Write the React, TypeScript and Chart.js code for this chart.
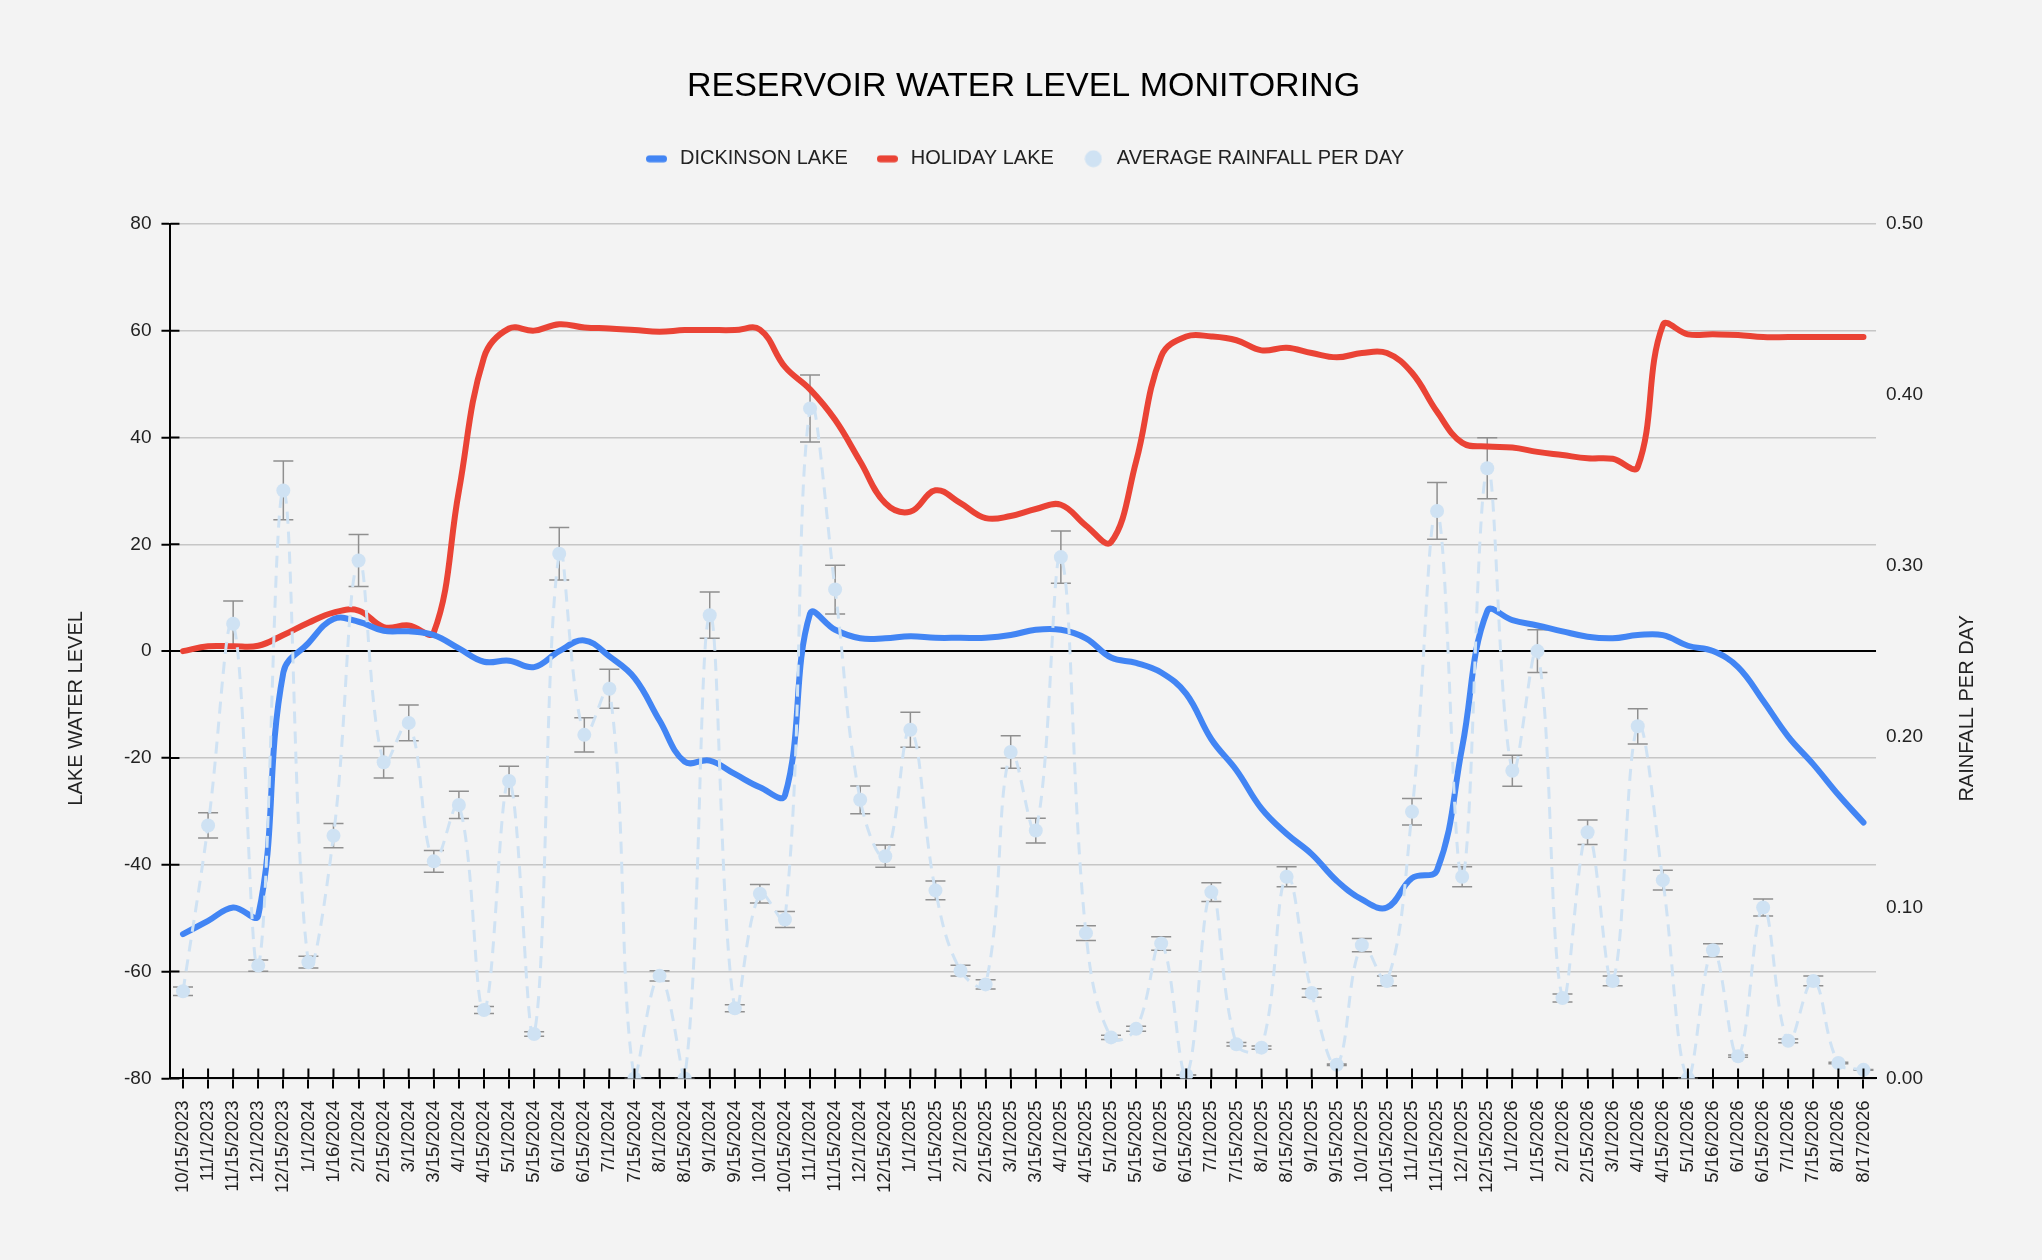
import React, { useEffect, useRef } from 'react';
import { Chart, registerables } from 'chart.js';

Chart.register(...registerables);

const TITLE = 'RESERVOIR WATER LEVEL MONITORING';
const LEFT_AXIS_TITLE = 'LAKE WATER LEVEL';
const RIGHT_AXIS_TITLE = 'RAINFALL PER DAY';

const labels = [
  '10/15/2023', '11/1/2023', '11/15/2023', '12/1/2023', '12/15/2023',
  '1/1/2024', '1/16/2024', '2/1/2024', '2/15/2024', '3/1/2024', '3/15/2024', '4/1/2024', '4/15/2024',
  '5/1/2024', '5/15/2024', '6/1/2024', '6/15/2024', '7/1/2024', '7/15/2024', '8/1/2024', '8/15/2024',
  '9/1/2024', '9/15/2024', '10/1/2024', '10/15/2024', '11/1/2024', '11/15/2024', '12/1/2024', '12/15/2024',
  '1/1/2025', '1/15/2025', '2/1/2025', '2/15/2025', '3/1/2025', '3/15/2025', '4/1/2025', '4/15/2025',
  '5/1/2025', '5/15/2025', '6/1/2025', '6/15/2025', '7/1/2025', '7/15/2025', '8/1/2025', '8/15/2025',
  '9/1/2025', '9/15/2025', '10/1/2025', '10/15/2025', '11/1/2025', '11/15/2025', '12/1/2025', '12/15/2025',
  '1/1/2026', '1/15/2026', '2/1/2026', '2/15/2026', '3/1/2026', '4/1/2026', '4/15/2026', '5/1/2026',
  '5/16/2026', '6/1/2026', '6/15/2026', '7/1/2026', '7/15/2026', '8/1/2026', '8/17/2026',
];

const dickinsonLake = [
  -53, -50.5, -48, -49.5, -4, 1.5, 6, 5.5, 3.8, 3.7,
  3, 0.5, -2, -1.8, -3, 0, 2, -1, -5, -13,
  -20.7, -20.5, -23, -25.5, -27, 7, 4, 2.4, 2.4, 2.8,
  2.5, 2.5, 2.5, 3, 4, 4, 2.4, -1.2, -2.2, -4,
  -8, -16.5, -22.3, -29.5, -34.2, -38, -43, -46.5, -48, -42.5,
  -41, -18, 7.5, 5.8, 4.8, 3.7, 2.7, 2.4, 3, 3,
  1, 0, -3, -9.3, -16, -21.2, -26.9, -32.1,
];

const holidayLake = [
  0, 0.9, 0.9, 1, 3, 5.3, 7.2, 7.6, 4.5, 4.8,
  3.5, 30, 55, 60.4, 60, 61.2, 60.6, 60.4, 60.1, 59.8,
  60.1, 60.1, 60.1, 60.2, 53.2, 49, 43.3, 35.5, 27.7, 26.1,
  30.1, 27.7, 24.9, 25.3, 26.6, 27.4, 23.5, 20.4, 35.5, 55.2,
  58.9, 58.9, 58.2, 56.3, 56.8, 55.8, 55, 55.8, 55.8, 52.1,
  44.8, 39, 38.3, 38.1, 37.3, 36.7, 36.1, 36, 34.5, 61,
  59.3, 59.3, 59.2, 58.8, 58.8, 58.8, 58.8, 58.8,
];

const averageRainfall = [
  0.051, 0.148, 0.266, 0.066, 0.344, 0.068, 0.142, 0.303, 0.185, 0.208,
  0.127, 0.160, 0.040, 0.174, 0.026, 0.307, 0.201, 0.228, 0.000, 0.060,
  0.000, 0.271, 0.041, 0.108, 0.093, 0.392, 0.286, 0.163, 0.130, 0.204,
  0.110, 0.063, 0.055, 0.191, 0.145, 0.305, 0.085, 0.024, 0.029, 0.079,
  0.002, 0.109, 0.020, 0.018, 0.118, 0.050, 0.008, 0.078, 0.057, 0.156,
  0.332, 0.118, 0.357, 0.180, 0.250, 0.047, 0.144, 0.057, 0.206, 0.116,
  0.000, 0.075, 0.013, 0.100, 0.022, 0.057, 0.009, 0.005,
];

// Error bars of the rainfall series: percent of each value (chart setting)
const RAINFALL_ERROR_PERCENT = 5;

const LAKE_MIN = -80;
const LAKE_MAX = 80;
const LAKE_STEP = 20;
const RAIN_MIN = 0;
const RAIN_MAX = 0.5;
const RAIN_STEP = 0.1;

const FAMILY = "'Liberation Sans', Arial, Helvetica, sans-serif";
const BLUE = '#4285f4';
const RED = '#ea4335';
const LIGHT = '#cfe2f3';
const BG = '#f3f3f3';
const TEXT = '#222222';

function makeLineMarker(color: string) {
  const c = document.createElement('canvas');
  c.width = 21;
  c.height = 8;
  const g = c.getContext('2d')!;
  g.strokeStyle = color;
  g.lineWidth = 7;
  g.lineCap = 'round';
  g.beginPath();
  g.moveTo(3.5, 4);
  g.lineTo(17.5, 4);
  g.stroke();
  return c;
}

function makeDotMarker(color: string) {
  const c = document.createElement('canvas');
  c.width = 18;
  c.height = 18;
  const g = c.getContext('2d')!;
  g.fillStyle = color;
  g.beginPath();
  g.arc(9, 9, 8.5, 0, Math.PI * 2);
  g.fill();
  return c;
}

export default function App() {
  const ref = useRef<HTMLCanvasElement>(null);

  useEffect(() => {
    const canvas = ref.current;
    if (!canvas) return;
    const markers = [makeLineMarker(BLUE), makeLineMarker(RED), makeDotMarker(LIGHT)];

    const extras = {
      id: 'extras',
      beforeInit(chart: any) {
        const lg = chart.legend;
        if (lg) {
          const fit = lg.fit.bind(lg);
          lg.fit = function () {
            fit();
            this.height += 45;
          };
        }
      },
      beforeDraw(chart: any) {
        const { ctx, width, height } = chart;
        ctx.save();
        ctx.fillStyle = BG;
        ctx.fillRect(0, 0, width, height);
        ctx.restore();
      },
      beforeDatasetsDraw(chart: any) {
        const { ctx, chartArea } = chart;
        const meta = chart.getDatasetMeta(2);
        const ys = chart.scales.y2;
        ctx.save();
        ctx.beginPath();
        ctx.rect(chartArea.left, chartArea.top, chartArea.right - chartArea.left, chartArea.bottom - chartArea.top);
        ctx.clip();
        ctx.strokeStyle = '#8f8f8f';
        ctx.lineWidth = 1.5;
        meta.data.forEach((pt: any, i: number) => {
          const v = averageRainfall[i];
          const e = (v * RAINFALL_ERROR_PERCENT) / 100;
          const yt = ys.getPixelForValue(v + e);
          const yb = ys.getPixelForValue(v - e);
          const x = pt.x;
          ctx.beginPath();
          ctx.moveTo(x, yt);
          ctx.lineTo(x, yb);
          ctx.moveTo(x - 10, yt);
          ctx.lineTo(x + 10, yt);
          ctx.moveTo(x - 10, yb);
          ctx.lineTo(x + 10, yb);
          ctx.stroke();
        });
        ctx.restore();
      },
      afterDraw(chart: any) {
        const { ctx, chartArea } = chart;
        const xs = chart.scales.x;
        const yl = chart.scales.y;
        ctx.save();
        ctx.strokeStyle = '#000';
        ctx.lineWidth = 2;
        ctx.beginPath();
        xs.ticks.forEach((_: any, i: number) => {
          const px = xs.getPixelForTick(i);
          ctx.moveTo(px, chartArea.bottom);
          ctx.lineTo(px, chartArea.bottom - 10);
        });
        yl.ticks.forEach((_: any, i: number) => {
          const py = yl.getPixelForTick(i);
          ctx.moveTo(chartArea.left, py);
          ctx.lineTo(chartArea.left + 9, py);
        });
        ctx.stroke();

        const cy = (chartArea.top + xs.bottom - xs.options.ticks.padding) / 2;
        ctx.fillStyle = TEXT;
        ctx.font = `20px ${FAMILY}`;
        ctx.textAlign = 'center';
        ctx.textBaseline = 'middle';
        ctx.save();
        ctx.translate(chartArea.left - 94, cy);
        ctx.rotate(-Math.PI / 2);
        ctx.fillText(LEFT_AXIS_TITLE, 0, 0);
        ctx.restore();
        ctx.save();
        ctx.translate(chartArea.right + 91, cy);
        ctx.rotate(-Math.PI / 2);
        ctx.fillText(RIGHT_AXIS_TITLE, 0, 0);
        ctx.restore();
        ctx.restore();
      },
    };

    const chart = new Chart(canvas, {
      type: 'line',
      data: {
        labels,
        datasets: [
          {
            label: 'DICKINSON LAKE',
            data: dickinsonLake,
            yAxisID: 'y',
            borderColor: BLUE,
            backgroundColor: BLUE,
            borderWidth: 6,
            pointRadius: 0,
            pointHoverRadius: 0,
            tension: 0.4,
            borderCapStyle: 'round',
            borderJoinStyle: 'round',
            fill: false,
            order: 1,
          },
          {
            label: 'HOLIDAY LAKE',
            data: holidayLake,
            yAxisID: 'y',
            borderColor: RED,
            backgroundColor: RED,
            borderWidth: 6,
            pointRadius: 0,
            pointHoverRadius: 0,
            tension: 0.4,
            borderCapStyle: 'round',
            borderJoinStyle: 'round',
            fill: false,
            order: 2,
          },
          {
            label: 'AVERAGE RAINFALL PER DAY',
            data: averageRainfall,
            yAxisID: 'y2',
            borderColor: LIGHT,
            backgroundColor: LIGHT,
            borderWidth: 3,
            borderDash: [12, 8],
            pointRadius: 7,
            pointBorderWidth: 0,
            pointBackgroundColor: LIGHT,
            tension: 0.4,
            fill: false,
            order: 0,
          },
        ],
      } as any,
      options: {
        responsive: false,
        animation: false,
        devicePixelRatio: 1,
        layout: { padding: { top: 0, left: 114, right: 109, bottom: 55 } },
        plugins: {
          tooltip: { enabled: false },
          title: {
            display: true,
            text: TITLE,
            color: '#000',
            font: { family: FAMILY, size: 34, weight: 'normal' },
            padding: { top: 66, bottom: 16 },
          },
          legend: {
            display: true,
            position: 'top',
            labels: {
              usePointStyle: true,
              pointStyleWidth: 27,
              padding: 26,
              color: TEXT,
              font: { family: FAMILY, size: 20 },
              generateLabels: (c: any) => {
                const items = (Chart.defaults.plugins.legend.labels as any).generateLabels(c);
                items.forEach((it: any) => {
                  it.pointStyle = markers[it.datasetIndex];
                });
                return items.sort((a: any, b: any) => a.datasetIndex - b.datasetIndex);
              },
            },
          },
        },
        scales: {
          x: {
            type: 'category',
            offset: true,
            grid: {
              display: true,
              drawOnChartArea: false,
              drawTicks: true,
              tickLength: 10,
              tickColor: '#000',
              tickWidth: 2,
              lineWidth: 2,
              color: '#000',
            },
            border: { display: true, color: '#000', width: 2 },
            ticks: {
              autoSkip: false,
              maxRotation: 90,
              minRotation: 90,
              padding: 12,
              color: TEXT,
              font: { family: FAMILY, size: 18.5 },
            },
          },
          y: {
            position: 'left',
            min: LAKE_MIN,
            max: LAKE_MAX,
            ticks: {
              stepSize: LAKE_STEP,
              padding: 10,
              color: TEXT,
              font: { family: FAMILY, size: 19 },
            },
            grid: {
              color: (c: any) => (c.tick && c.tick.value === 0 ? '#000' : '#c6c6c6'),
              lineWidth: (c: any) => (c.tick && c.tick.value === 0 ? 2 : 1.5),
              tickColor: '#000',
              tickLength: 9,
              tickWidth: 2,
            },
            border: { display: true, color: '#000', width: 2 },
          },
          y2: {
            position: 'right',
            min: RAIN_MIN,
            max: RAIN_MAX,
            ticks: {
              stepSize: RAIN_STEP,
              padding: 10,
              color: TEXT,
              font: { family: FAMILY, size: 19 },
              callback: (v: any) => Number(v).toFixed(2),
            },
            grid: { display: false, drawOnChartArea: false, drawTicks: false },
            border: { display: false },
          },
        },
      } as any,
      plugins: [extras],
    });

    return () => {
      chart.destroy();
    };
  }, []);

  return (
    <div style={{ width: 2042, height: 1260, background: BG }}>
      <style>{`html,body{margin:0;padding:0;background:${BG};overflow:hidden}`}</style>
      <canvas ref={ref} width={2042} height={1260} style={{ display: 'block' }} />
    </div>
  );
}
